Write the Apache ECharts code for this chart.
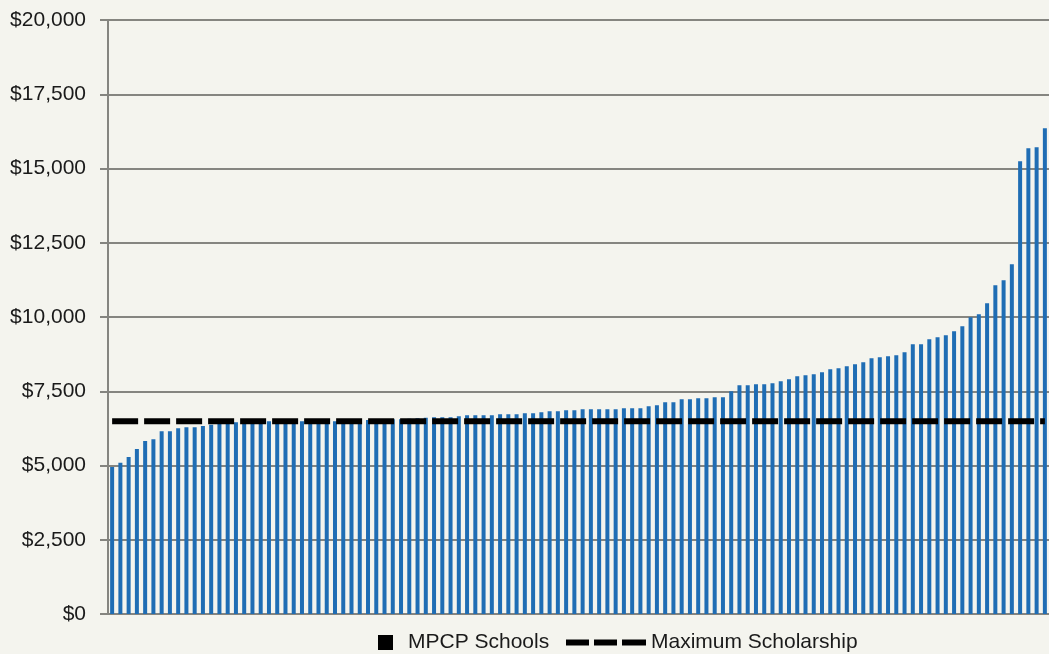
<!DOCTYPE html>
<html>
<head>
<meta charset="utf-8">
<script src="https://cdn.jsdelivr.net/npm/echarts@6/dist/echarts.min.js"></script>
<style>
  html, body { margin: 0; padding: 0; background: #f4f4ee; }
  #main { width: 1049px; height: 654px; }
</style>
</head>
<body>
<div id="main"></div>
<script>
var chartDom = document.getElementById('main');
var myChart = echarts.init(chartDom);
var option;

// per-pupil cost of each MPCP school, sorted low to high
var schoolCosts = [
    4946, 5091, 5283, 5552, 5821, 5888, 6157, 6157, 6258, 6292,
    6292, 6326, 6369, 6420, 6440, 6460, 6470, 6475, 6480, 6494,
    6494, 6494, 6494, 6494, 6494, 6494, 6494, 6494, 6500, 6510,
    6515, 6528, 6535, 6545, 6555, 6561, 6575, 6590, 6610, 6628,
    6628, 6628, 6662, 6696, 6696, 6696, 6696, 6729, 6729, 6729,
    6763, 6763, 6797, 6830, 6830, 6864, 6864, 6898, 6898, 6898,
    6898, 6898, 6931, 6931, 6931, 6999, 7032, 7133, 7133, 7234,
    7234, 7268, 7268, 7301, 7301, 7503, 7705, 7705, 7739, 7739,
    7772, 7840, 7907, 8008, 8042, 8075, 8143, 8244, 8277, 8344,
    8412, 8479, 8614, 8647, 8681, 8715, 8815, 9085, 9085, 9253,
    9320, 9388, 9522, 9690, 9993, 10094, 10464, 11070, 11238, 11776,
    15242, 15680, 15713, 16352
];
var maxScholarship = 6490;

var schools = [];
var scholarshipLine = [];
for (var i = 0; i < schoolCosts.length; i++) {
    schools.push('School ' + (i + 1));
    scholarshipLine.push(maxScholarship);
}

var gridGray = '#858580';
var fontName = '"Liberation Sans", Arial, sans-serif';
var legendText = { fontSize: 21, color: '#1a1a1a', fontFamily: fontName, lineHeight: 20 };

option = {
    backgroundColor: '#f4f4ee',
    animation: false,
    grid: {
        left: 108,
        right: 0,
        top: 20,
        bottom: 40
    },
    legend: [{
        left: 378,
        top: 632,
        padding: 0,
        itemWidth: 35,
        itemHeight: 15,
        textStyle: legendText,
        data: [{ name: 'MPCP Schools', icon: 'path://M0,0H10V10H0Z', itemStyle: { color: '#000' } }]
    }, {
        left: 566,
        top: 632,
        padding: 0,
        itemWidth: 80,
        itemHeight: 6,
        textStyle: legendText,
        data: [{
            name: 'Maximum Scholarship',
            icon: 'path://M0,0H23V6H0Z M28,0H51V6H28Z M56,0H80V6H56Z',
            itemStyle: { color: '#000' }
        }]
    }],
    xAxis: {
        type: 'category',
        data: schools,
        axisLine: { show: true, lineStyle: { color: gridGray, width: 2 } },
        axisTick: { show: false },
        axisLabel: { show: false }
    },
    yAxis: {
        type: 'value',
        min: 0,
        max: 20000,
        interval: 2500,
        axisLine: { show: true, lineStyle: { color: gridGray, width: 2 } },
        axisTick: { show: true, length: 8, lineStyle: { color: gridGray, width: 2 } },
        splitLine: { show: true, lineStyle: { color: gridGray, width: 2 } },
        axisLabel: {
            margin: 22,
            fontSize: 21,
            color: '#1a1a1a',
            fontFamily: fontName,
            formatter: function (v) {
                return '$' + v.toLocaleString('en-US');
            }
        }
    },
    series: [{
        name: 'MPCP Schools',
        type: 'bar',
        data: schoolCosts,
        barWidth: 4,
        itemStyle: { color: '#1f6db4' }
    }, {
        name: 'Maximum Scholarship',
        type: 'line',
        data: scholarshipLine,
        symbol: 'none',
        z: 5,
        itemStyle: { color: '#000' },
        lineStyle: { color: '#000', width: 6, type: [26, 6], cap: 'butt' }
    }]
};

option && myChart.setOption(option);
</script>
</body>
</html>
